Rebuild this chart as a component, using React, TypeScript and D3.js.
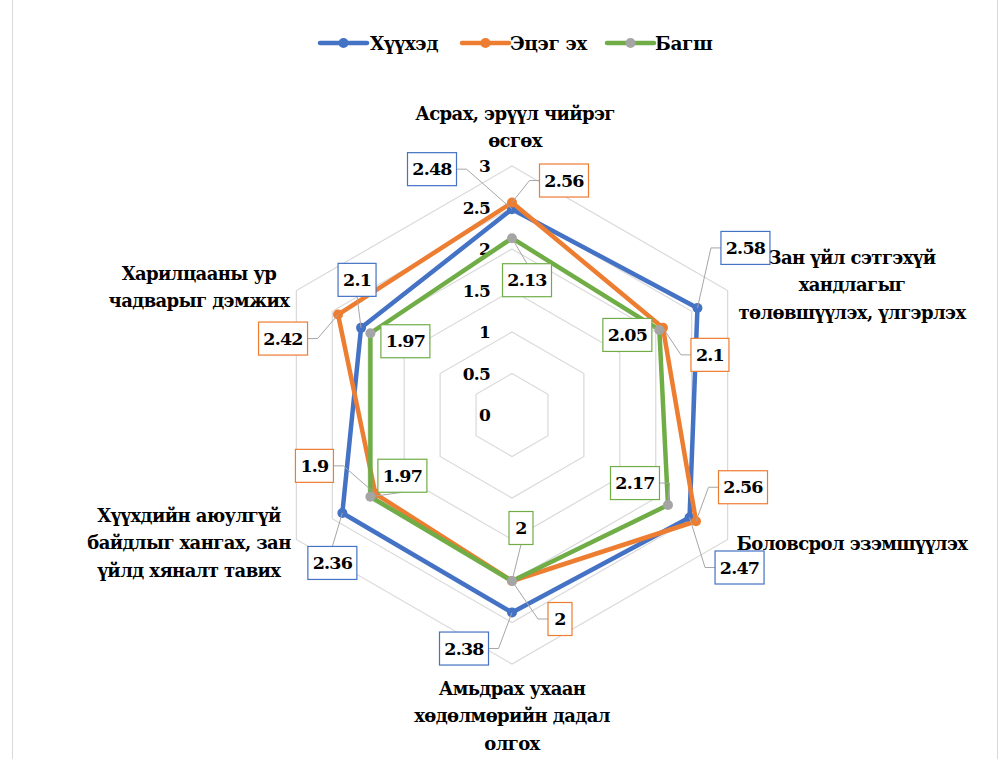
import React from "react";
import * as d3 from "d3";

const categories: string[][] = [
  ["Асрах, эрүүл чийрэг", "өсгөх"],
  ["Зан үйл сэтгэхүй", "хандлагыг", "төлөвшүүлэх, үлгэрлэх"],
  ["Боловсрол эзэмшүүлэх"],
  ["Амьдрах ухаан", "хөдөлмөрийн дадал", "олгох"],
  ["Хүүхдийн аюулгүй", "байдлыг хангах, зан", "үйлд хяналт тавих"],
  ["Харилцааны ур", "чадварыг дэмжих"],
];
const seriesNames = ["Хүүхэд", "Эцэг эх", "Багш"];
const childValues = [2.48, 2.58, 2.47, 2.38, 2.36, 2.1];
const parentValues = [2.56, 2.1, 2.56, 2, 1.9, 2.42];
const teacherValues = [2.13, 2.05, 2.17, 2, 1.97, 1.97];
const tickValues = [0, 0.5, 1, 1.5, 2, 2.5, 3];

// layout (not data)
const lineColors = ["#4472C4", "#ED7D31", "#70AD47"];
const markerColors = ["#4472C4", "#ED7D31", "#A5A5A5"];
const labelOffsets: [number, number][][] = [
  [[-80, -40], [48, -60], [50, 50], [-48, 36], [-10, 50], [-4, -48]],
  [[52, -22], [47, 27], [47, -34], [48, 38], [-61, -28], [-55, 24]],
  [[15, 42], [-32, 5], [-33, -22], [9, -53], [32, -21], [35, 8]],
];
const catLabelPos: [number, number][] = [
  [515, 113], [852, 257], [852, 543], [512, 688], [189, 515], [199, 273],
];

const CX = 512, CY = 415;
const FONT = "'DejaVu Serif', serif";

export default function App() {
  const r = d3.scaleLinear().domain([0, 3]).range([0, 249]);
  const n = categories.length;
  const ang = (i: number) => (-Math.PI / 2) + (2 * Math.PI * i) / n;
  const pt = (i: number, v: number): [number, number] => [
    CX + r(v) * Math.cos(ang(i)),
    CY + r(v) * Math.sin(ang(i)),
  ];
  const allSeries = [childValues, parentValues, teacherValues];
  const line = d3.line<[number, number]>().curve(d3.curveLinearClosed);

  const grid = tickValues.filter((t) => t > 0).map((t) =>
    line(d3.range(n).map((i) => pt(i, t)))
  );

  const labelW = (s: string) => (s.length <= 1 ? 24 : s.length <= 3 ? 38 : 49);
  const labelH = 33;

  const labels: JSX.Element[] = [];
  allSeries.forEach((vals, si) => {
    vals.forEach((v, i) => {
      const [mx, my] = pt(i, v);
      const [dx, dy] = labelOffsets[si][i];
      const bx = mx + dx, by = my + dy;
      const txt = String(v);
      const w = labelW(txt);
      let path: string | null = null;
      const ddx = mx - bx, ddy = my - by;
      if (Math.abs(ddx) < w / 2 + 8) {
        const ay = ddy > 0 ? by + labelH / 2 : by - labelH / 2;
        if (Math.hypot(mx - bx, my - ay) > 14) path = `M${bx},${ay}L${mx},${my}`;
      } else {
        const side = ddx > 0 ? 1 : -1;
        const ax = bx + side * w / 2;
        const sx = ax + side * 10;
        if (Math.hypot(mx - ax, my - by) > 16) path = `M${ax},${by}L${sx},${by}L${mx},${my}`;
      }
      labels.push(
        <g key={`l${si}-${i}`}>
          {path && <path d={path} fill="none" stroke="#A6A6A6" strokeWidth={1} />}
          <rect x={bx - w / 2} y={by - labelH / 2} width={w} height={labelH} fill="#fff" stroke={lineColors[si]} strokeWidth={1.2} />
          <text x={bx} y={by} textAnchor="middle" dominantBaseline="central" fontFamily={FONT} fontWeight="bold" fontSize={17.5} letterSpacing={-0.8} fill="#000">{txt}</text>
        </g>
      );
    });
  });

  const legendItems = [
    { x: 320, tx: 370 },
    { x: 462, tx: 510 },
    { x: 607, tx: 655 },
  ];

  return (
    <svg width={1005} height={759} style={{ position: "absolute", left: 0, top: 0, background: "#fff" }}>
      <rect x={0} y={0} width={1005} height={759} fill="#fff" />
      <line x1={12.5} y1={0} x2={12.5} y2={759} stroke="#D9D9D9" />
      <line x1={997.5} y1={0} x2={997.5} y2={759} stroke="#D9D9D9" />
      {legendItems.map((it, si) => (
        <g key={`lg${si}`}>
          <line x1={it.x} y1={43} x2={it.x + 47} y2={43} stroke={lineColors[si]} strokeWidth={4.5} strokeLinecap="round" />
          <circle cx={it.x + 23.5} cy={43} r={5} fill={markerColors[si]} />
          <text x={it.tx} y={43} dominantBaseline="central" fontFamily={FONT} fontWeight="bold" fontSize={18.5} letterSpacing={-0.4}>{seriesNames[si]}</text>
        </g>
      ))}
      {grid.map((d, k) => (
        <path key={`g${k}`} d={d || ""} fill="none" stroke="#D9D9D9" strokeWidth={1.2} />
      ))}
      {tickValues.map((t) => (
        <text key={`t${t}`} x={CX - 22} y={CY - r(t)} textAnchor="end" dominantBaseline="central" fontFamily={FONT} fontWeight="bold" fontSize={17} letterSpacing={-0.8}>{t}</text>
      ))}
      {categories.map((lines, i) => (
        <text key={`c${i}`} textAnchor="middle" fontFamily={FONT} fontWeight="bold" fontSize={18} letterSpacing={-0.6}>
          {lines.map((s, k) => (
            <tspan key={k} x={catLabelPos[i][0]} y={catLabelPos[i][1] + k * 27.5} dominantBaseline="central">{s}</tspan>
          ))}
        </text>
      ))}
      {allSeries.map((vals, si) => (
        <g key={`s${si}`}>
          <path d={line(vals.map((v, i) => pt(i, v))) || ""} fill="none" stroke={lineColors[si]} strokeWidth={4.5} strokeLinejoin="round" />
          {vals.map((v, i) => {
            const [x, y] = pt(i, v);
            return <circle key={i} cx={x} cy={y} r={5} fill={markerColors[si]} />;
          })}
        </g>
      ))}
      {labels}
    </svg>
  );
}
